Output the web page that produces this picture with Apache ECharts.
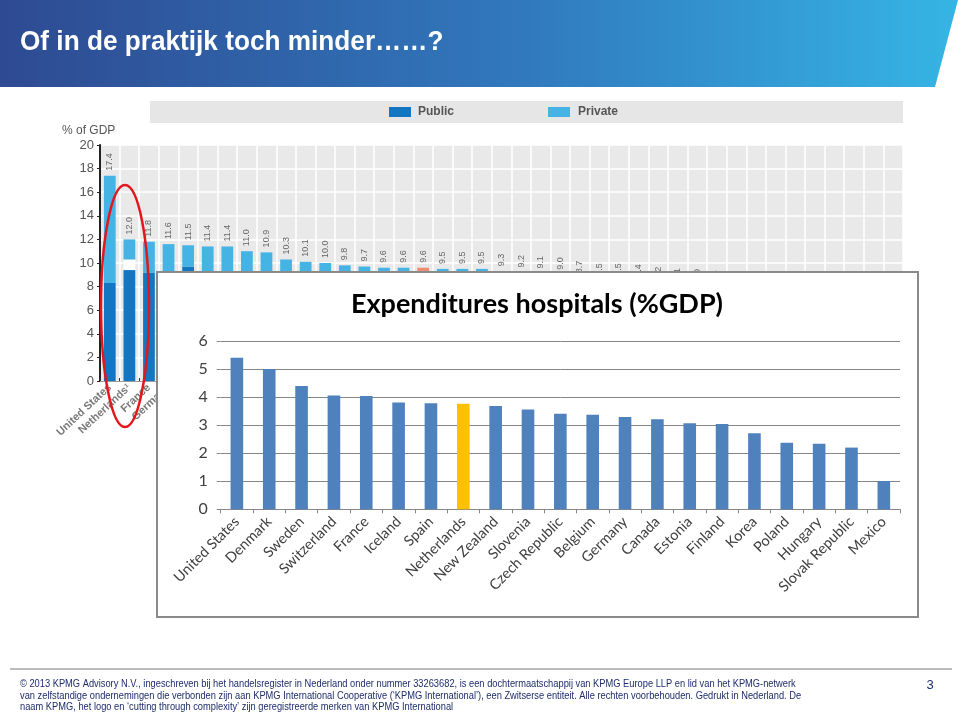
<!DOCTYPE html>
<html>
<head>
<meta charset="utf-8">
<script src="https://cdn.jsdelivr.net/npm/echarts@6/dist/echarts.min.js"></script>
<style>
html,body{margin:0;padding:0;background:#fff;}
#chart{width:960px;height:712px;}
</style>
</head>
<body>
<div id="chart"></div>
<script>
// ---------- Background OECD chart (health expenditure % of GDP) ----------
const bgCategories = ['United States','Netherlands¹','France','Germany','Denmark','Canada','Switzerland','Austria','Belgium','New Zealand','Portugal','Sweden','United Kingdom','Iceland','Norway','Ireland','OECD','Italy','Spain','Greece','Slovenia','Finland','Slovak Republic','Australia','Japan','Chile','Czech Republic','Israel','Luxembourg','Hungary','Poland','Korea','Estonia','Mexico','Turkey','Russian Federation','Brazil','South Africa','China','India','Indonesia'];
const bgTotals  = [17.4,12.0,11.8,11.6,11.5,11.4,11.4,11.0,10.9,10.3,10.1,10.0,9.8,9.7,9.6,9.6,9.6,9.5,9.5,9.5,9.3,9.2,9.1,9.0,8.7,8.5,8.5,8.4,8.2,8.1,8.0,7.9,7.8,7.5,7.4,7.0,6.9,6.4,6.1,5.4,4.3];
const bgPublic  = [8.3,9.4,9.2,8.9,9.7,8.1,6.9,8.5,8.2,8.2,6.9,8.2,8.2,7.9,8.2,6.9,6.9,7.4,7.0,6.1,6.8,6.9,6.1,6.0,7.1,4.1,7.0,4.9,7.0,5.6,5.6,4.6,5.9,3.5,5.3,4.2,3.0,2.8,3.3,1.8,2.1];
const bgUnalloc = [0,0.9,0,0,0,0,0,0,0,0,0,0,0,0,0,0,0,0,0,0,0,0,0,0,0,0,0,0,0,0,0,0,0,0,0,0,0,0,0,0,0];
const bgPrivate = [9.1,1.7,2.6,2.7,1.8,3.3,4.5,2.5,2.7,2.1,3.2,1.8,1.6,1.8,1.4,2.7,2.7,2.1,2.5,3.4,2.5,2.3,3.0,3.0,1.6,4.4,1.5,3.5,1.2,2.5,2.4,3.3,1.9,4.0,2.1,2.8,3.9,3.6,2.8,3.6,2.2];
const bgYTicks = [0,2,4,6,8,10,12,14,16,18,20];
const bgHighlight = 'OECD';

// ---------- Foreground chart: Expenditures hospitals (%GDP) ----------
const fgCategories = ['United States','Denmark','Sweden','Switzerland','France','Iceland','Spain','Netherlands','New Zealand','Slovenia','Czech Republic','Belgium','Germany','Canada','Estonia','Finland','Korea','Poland','Hungary','Slovak Republic','Mexico'];
const fgValues = [5.4,5.0,4.4,4.06,4.04,3.81,3.78,3.76,3.68,3.56,3.41,3.37,3.29,3.21,3.07,3.04,2.71,2.37,2.34,2.20,1.01];
const fgHighlight = 'Netherlands';
const fgYTicks = [0,1,2,3,4,5,6];

const footerLines = [
  '© 2013 KPMG Advisory N.V., ingeschreven bij het handelsregister in Nederland onder nummer 33263682, is een dochtermaatschappij van KPMG Europe LLP en lid van het KPMG-netwerk',
  'van zelfstandige ondernemingen die verbonden zijn aan KPMG International Cooperative (‘KPMG International’), een Zwitserse entiteit. Alle rechten voorbehouden. Gedrukt in Nederland. De',
  'naam KPMG, het logo en ‘cutting through complexity’ zijn geregistreerde merken van KPMG International'
];

const PUB = '#1276c3', PRIV = '#45b3e4', OECD_PUB = '#e0553f', OECD_PRIV = '#f08c6f';
const FG_BAR = '#4f81bd', FG_HI = '#ffc000';

const chart = echarts.init(document.getElementById('chart'), null, {renderer:'canvas'});

const bgPublicData = bgPublic.map((v,i)=> bgCategories[i]===bgHighlight ? {value:v, itemStyle:{color:OECD_PUB}} : v);
const bgPrivateData = bgPrivate.map((v,i)=> bgCategories[i]===bgHighlight ? {value:v, itemStyle:{color:OECD_PRIV}} : v);
const fgData = fgValues.map((v,i)=> fgCategories[i]===fgHighlight ? {value:v, itemStyle:{color:FG_HI}} : v);

const FOOT_FONT = '10px "Liberation Sans", Arial, sans-serif';

const option = {
  animation:false,
  backgroundColor:'#ffffff',
  grid:[
    {left:100, top:145, width:803, height:236, show:true, backgroundColor:'#e9e9e9', borderWidth:0, containLabel:false},
    {left:220.7, top:341, width:679.3, height:168.3, containLabel:false, zlevel:1, z:5}
  ],
  xAxis:[
    {type:'category', gridIndex:0, data:bgCategories,
     axisLine:{show:true, lineStyle:{color:'#9a9a9a', width:1}},
     axisTick:{show:true, inside:true, length:3, lineStyle:{color:'#333'}},
     splitLine:{show:true, interval:0, lineStyle:{color:'#ffffff', width:1.5}},
     axisLabel:{show:true, interval:function(i){return i<=3;}, rotate:43, fontSize:11, fontWeight:'bold', color:'#7a7a7a', fontFamily:'Liberation Sans, sans-serif', margin:5}},
    {type:'category', gridIndex:1, data:fgCategories, zlevel:1, z:6,
     axisLine:{show:true, lineStyle:{color:'#868686', width:1}},
     axisTick:{show:true, length:4, lineStyle:{color:'#868686'}},
     axisLabel:{interval:0, rotate:45, fontSize:14.5, color:'#404040', fontFamily:'Lato, Open Sans, sans-serif', margin:10}}
  ],
  yAxis:[
    {type:'value', gridIndex:0, min:0, max:20, interval:2,
     axisLine:{show:true, lineStyle:{color:'#222', width:2}},
     axisTick:{show:true, length:3, lineStyle:{color:'#222'}},
     splitLine:{show:true, lineStyle:{color:'#ffffff', width:1.5}},
     axisLabel:{fontSize:13, color:'#555', fontFamily:'Liberation Sans, sans-serif', margin:6,
       formatter:function(v){return bgYTicks.indexOf(v)>=0 ? String(v) : '';}}},
    {type:'value', gridIndex:1, min:0, max:6, interval:1, zlevel:1, z:6,
     axisLine:{show:false},
     axisTick:{show:true, length:4, lineStyle:{color:'#868686'}},
     splitLine:{show:true, lineStyle:{color:'#868686', width:1}},
     axisLabel:{fontSize:16, color:'#404040', fontFamily:'Lato, Open Sans, sans-serif', margin:13,
       formatter:function(v){return fgYTicks.indexOf(v)>=0 ? String(v) : '';}}}
  ],
  series:[
    {name:'Public', type:'bar', stack:'bg', xAxisIndex:0, yAxisIndex:0, data:bgPublicData, barWidth:'60%', itemStyle:{color:PUB}},
    {name:'Unallocated', type:'bar', stack:'bg', xAxisIndex:0, yAxisIndex:0, data:bgUnalloc, barWidth:'60%', itemStyle:{color:'#ffffff'}},
    {name:'Private', type:'bar', stack:'bg', xAxisIndex:0, yAxisIndex:0, data:bgPrivateData, barWidth:'60%', itemStyle:{color:PRIV},
     label:{show:true, position:'top', rotate:90, align:'left', verticalAlign:'middle', distance:5, fontSize:9, color:'#666',
       fontFamily:'Liberation Sans, sans-serif',
       formatter:function(p){return bgTotals[p.dataIndex].toFixed(1);}}},
    {name:'Hospitals', type:'bar', xAxisIndex:1, yAxisIndex:1, data:fgData, barWidth:'39%', itemStyle:{color:FG_BAR}, zlevel:1, z:7}
  ],
  graphic:{elements:[
    // header band
    {type:'polygon', shape:{points:[[0,0],[958,0],[935,87],[0,87]]}, z:1,
     style:{fill:new echarts.graphic.LinearGradient(0,0,1,0,[{offset:0,color:'#2e4a92'},{offset:0.55,color:'#3179bd'},{offset:1,color:'#35b5e4'}])}},
    {type:'text', x:20, y:29, z:2, scaleX:0.97, style:{text:'Of in de praktijk toch minder……?', fill:'#ffffff', font:'bold 27px "Liberation Sans", Arial, sans-serif'}},
    // background chart legend panel
    {type:'rect', shape:{x:150, y:101, width:753, height:22}, z:1, style:{fill:'#e6e6e6'}},
    {type:'rect', shape:{x:389, y:107, width:22, height:10}, z:2, style:{fill:PUB}},
    {type:'text', x:418, y:112, z:2, style:{text:'Public', fill:'#555', font:'bold 12px "Liberation Sans", sans-serif', textVerticalAlign:'middle'}},
    {type:'rect', shape:{x:548, y:107, width:22, height:10}, z:2, style:{fill:PRIV}},
    {type:'text', x:578, y:112, z:2, style:{text:'Private', fill:'#555', font:'bold 12px "Liberation Sans", sans-serif', textVerticalAlign:'middle'}},
    {type:'text', x:62, y:131, z:2, style:{text:'% of GDP', fill:'#555', font:'12px "Liberation Sans", sans-serif', textVerticalAlign:'middle'}},
    // red ellipse
    {type:'ellipse', shape:{cx:125, cy:306, rx:24, ry:121}, z:20, style:{fill:'none', stroke:'#e3161c', lineWidth:2.5}},
    // foreground box
    {type:'rect', zlevel:1, z:1, shape:{x:157, y:272, width:761, height:345}, style:{fill:'#ffffff', stroke:'#8a8a8a', lineWidth:2}},
    {type:'text', zlevel:1, z:8, x:537, y:304, style:{text:'Expenditures hospitals (%GDP)', fill:'#000', font:'bold 27px Lato, "Open Sans", sans-serif', textAlign:'center', textVerticalAlign:'middle'}},
    // footer
    {type:'line', zlevel:1, shape:{x1:10, y1:669, x2:952, y2:669}, style:{stroke:'#bdbdbd', lineWidth:2}},
    {type:'text', zlevel:1, x:20, y:684, scaleX:0.93, style:{text:footerLines[0], fill:'#1e2d6b', font:FOOT_FONT, textVerticalAlign:'middle'}},
    {type:'text', zlevel:1, x:20, y:696, scaleX:0.93, style:{text:footerLines[1], fill:'#1e2d6b', font:FOOT_FONT, textVerticalAlign:'middle'}},
    {type:'text', zlevel:1, x:20, y:707, scaleX:0.93, style:{text:footerLines[2], fill:'#1e2d6b', font:FOOT_FONT, textVerticalAlign:'middle'}},
    {type:'text', zlevel:1, x:930, y:685, style:{text:'3', fill:'#1e2d6b', font:'13px "Liberation Sans", sans-serif', textVerticalAlign:'middle', textAlign:'center'}}
  ]}
};
chart.setOption(option);
</script>
</body>
</html>
